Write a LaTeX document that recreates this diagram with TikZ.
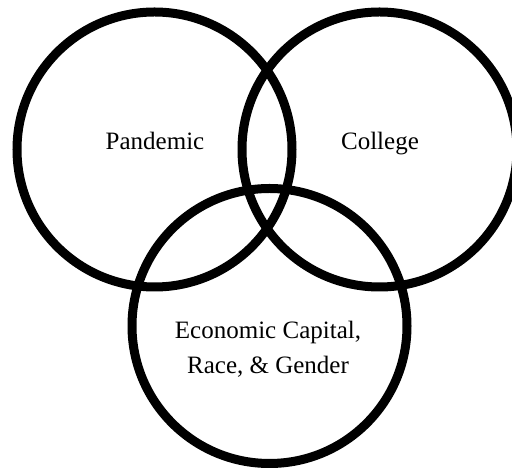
\documentclass[tikz,border=0pt]{standalone}
\usepackage{fontspec}
\setmainfont{Liberation Serif}
\tikzset{
    every picture/.style={x=1pt,y=1pt},
    ring/.style={circle,draw,line width=9pt,minimum size=275pt,inner sep=0pt},
    setlabel/.style={font=\fontsize{25}{35}\selectfont,align=center,inner sep=0pt}
}

\begin{document}
\begin{tikzpicture}
        \useasboundingbox (0,0) rectangle (512,468);

        % Circles
        \node[ring] (pandemic) at (154.5,318.5) {};
        \node[ring] (college) at (379.5,318.5) {};
        \node[ring] (capital) at (269.5,142) {};

        % Labels
        \node[setlabel,anchor=base] (pandemiclabel) at (155,318) {Pandemic};
        \node[setlabel,anchor=base] (collegelabel) at (380,318) {College};
        \node[setlabel] (capitallabel) at (268,119) {Economic Capital,\\ Race, \& Gender};
    \end{tikzpicture}
\end{document}
